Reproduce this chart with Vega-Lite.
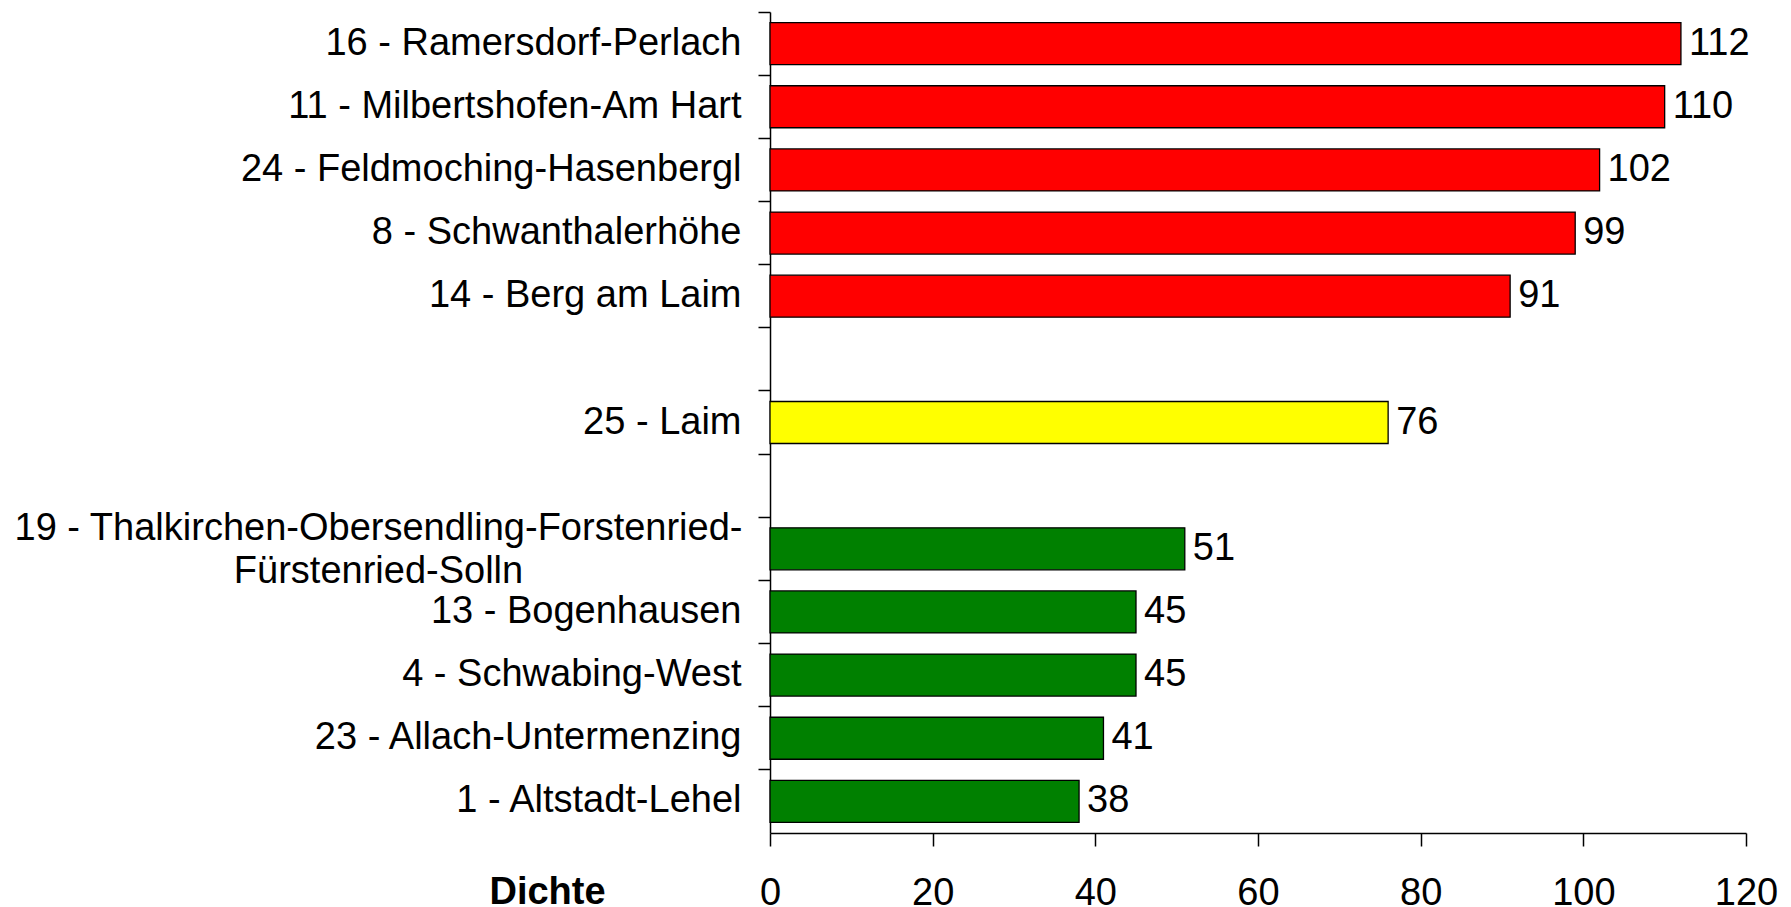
{
  "$schema": "https://vega.github.io/schema/vega-lite/v6.json",
  "width": 976,
  "height": 821,
  "autosize": {"type": "none"},
  "padding": {"left": 770, "top": 12, "right": 45, "bottom": 74},
  "background": "white",
  "config": {
    "view": {"stroke": null},
    "font": "Liberation Sans",
    "axis": {"grid": false, "domainColor": "black", "tickColor": "black", "labelColor": "black", "titleColor": "black", "domainWidth": 1.5, "tickWidth": 1.5}
  },
  "data": {
    "values": [
      {"Bezirk": "16 - Ramersdorf-Perlach", "Dichte": 112, "Stufe": "hoch"},
      {"Bezirk": "11 - Milbertshofen-Am Hart", "Dichte": 110, "Stufe": "hoch"},
      {"Bezirk": "24 - Feldmoching-Hasenbergl", "Dichte": 102, "Stufe": "hoch"},
      {"Bezirk": "8 - Schwanthalerhöhe", "Dichte": 99, "Stufe": "hoch"},
      {"Bezirk": "14 - Berg am Laim", "Dichte": 91, "Stufe": "hoch"},
      {"Bezirk": "25 - Laim", "Dichte": 76, "Stufe": "mittel"},
      {"Bezirk": "19 - Thalkirchen-Obersendling-Forstenried-Fürstenried-Solln", "Dichte": 51, "Stufe": "niedrig"},
      {"Bezirk": "13 - Bogenhausen", "Dichte": 45, "Stufe": "niedrig"},
      {"Bezirk": "4 - Schwabing-West", "Dichte": 45, "Stufe": "niedrig"},
      {"Bezirk": "23 - Allach-Untermenzing", "Dichte": 41, "Stufe": "niedrig"},
      {"Bezirk": "1 - Altstadt-Lehel", "Dichte": 38, "Stufe": "niedrig"}
    ]
  },
  "encoding": {
    "y": {
      "field": "Bezirk",
      "type": "nominal",
      "sort": null,
      "scale": {
        "domain": ["16 - Ramersdorf-Perlach", "11 - Milbertshofen-Am Hart", "24 - Feldmoching-Hasenbergl", "8 - Schwanthalerhöhe", "14 - Berg am Laim", "gap1", "25 - Laim", "gap2", "19 - Thalkirchen-Obersendling-Forstenried-Fürstenried-Solln", "13 - Bogenhausen", "4 - Schwabing-West", "23 - Allach-Untermenzing", "1 - Altstadt-Lehel"],
        "paddingInner": 0,
        "paddingOuter": 0
      },
      "axis": {
        "title": null,
        "bandPosition": 0,
        "tickSize": 12,
        "labelFontSize": 38,
        "labelLineHeight": 43,
        "labelBaseline": "middle",
        "labelAlign": {"condition": {"test": "indexof(datum.value, '19 - Thal') == 0", "value": "center"}, "value": "right"},
        "labelPadding": {"condition": {"test": "indexof(datum.value, '19 - Thal') == 0", "value": 380}, "value": 17},
        "labelOffset": {"condition": {"test": "indexof(datum.value, '19 - Thal') == 0", "value": -20}, "value": 0},
        "labelExpr": "indexof(datum.value, 'gap') == 0 ? '' : (indexof(datum.value, '19 - Thal') == 0 ? ['19 - Thalkirchen-Obersendling-Forstenried-', 'Fürstenried-Solln'] : datum.label)",
        "labelLimit": 1000
      }
    },
    "x": {
      "field": "Dichte",
      "type": "quantitative",
      "scale": {"domain": [0, 120], "nice": false},
      "axis": {
        "orient": "bottom",
        "values": [0, 20, 40, 60, 80, 100, 120],
        "title": "Dichte",
        "titleFontSize": 38,
        "titleFontWeight": "bold",
        "titleAlign": "center",
        "titleBaseline": "alphabetic",
        "titleX": -223,
        "titleY": 70,
        "tickSize": 13,
        "labelFontSize": 38,
        "labelPadding": 28,
        "labelFlush": false
      }
    }
  },
  "layer": [
    {
      "mark": {"type": "bar", "height": 42, "stroke": "black", "strokeWidth": 1.3},
      "encoding": {
        "color": {
          "field": "Stufe",
          "type": "nominal",
          "scale": {"domain": ["hoch", "mittel", "niedrig"], "range": ["#FF0000", "#FFFF00", "#008000"]},
          "legend": null
        }
      }
    },
    {
      "mark": {"type": "text", "align": "left", "baseline": "middle", "dx": 8, "fontSize": 38, "color": "black"},
      "encoding": {
        "text": {"field": "Dichte", "type": "quantitative"}
      }
    }
  ]
}
